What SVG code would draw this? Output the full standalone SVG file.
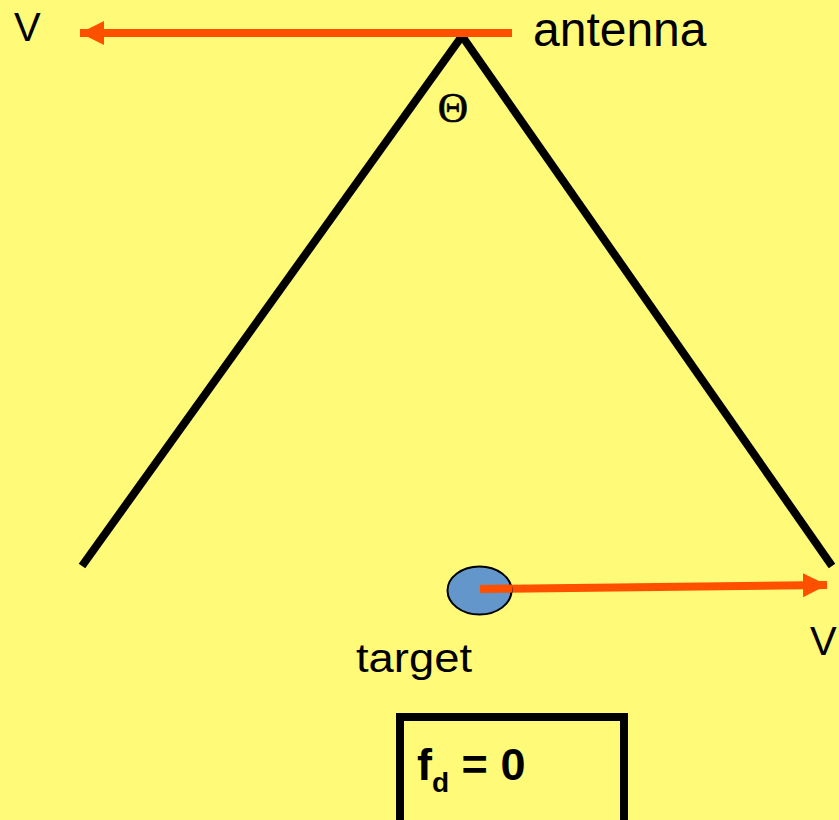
<svg xmlns="http://www.w3.org/2000/svg" width="839" height="820" viewBox="0 0 839 820">
<style>
.t{font-family:"Liberation Sans",Arial,sans-serif;fill:#000}
.beam{stroke:#000;stroke-width:8;fill:none}
.vel{stroke:#FF5000;stroke-width:8;fill:none}
</style>
<defs>
<marker id="ah" markerUnits="userSpaceOnUse" markerWidth="26" markerHeight="26" refX="24" refY="12" orient="auto">
<path d="M0,0 L24,12 L0,24 Z" fill="#FF5000"/>
</marker>
</defs>
<rect width="839" height="820" fill="#FFFA78"/>
<g id="connectors">
<line class="beam" x1="82" y1="566" x2="462" y2="36"/>
<line class="beam" x1="462" y1="36" x2="832" y2="566"/>
<line class="vel" x1="512" y1="33" x2="80" y2="33" marker-end="url(#ah)"/>
<line class="vel" x1="480" y1="589" x2="827" y2="585" marker-end="url(#ah)"/>
</g>
<g id="antenna">
<text class="t" x="533" y="46" font-size="48">antenna</text>
</g>
<g id="theta">
<text x="453" y="122" font-size="42" font-family="'Liberation Serif',serif" text-anchor="middle" stroke="#000" stroke-width="0.6">Θ</text>
</g>
<g id="vleft"><text class="t" x="14" y="41" font-size="40">V</text></g>
<g id="vright"><text class="t" x="810" y="655" font-size="40">V</text></g>
<g id="target">
<ellipse cx="479.5" cy="590.5" rx="32" ry="24" fill="#6396CA" stroke="#000" stroke-width="2"/>
<line class="vel" x1="480" y1="589" x2="512" y2="588.6"/>
<text class="t" x="356" y="672" font-size="40" textLength="116" lengthAdjust="spacingAndGlyphs">target</text>
</g>
<g id="result">
<rect x="400" y="717" width="224" height="120" fill="none" stroke="#000" stroke-width="8"/>
<text class="t" x="417" y="780" font-size="45" font-weight="bold">f<tspan font-size="28" dy="12">d</tspan><tspan dy="-12"> = 0</tspan></text>
</g>
</svg>
